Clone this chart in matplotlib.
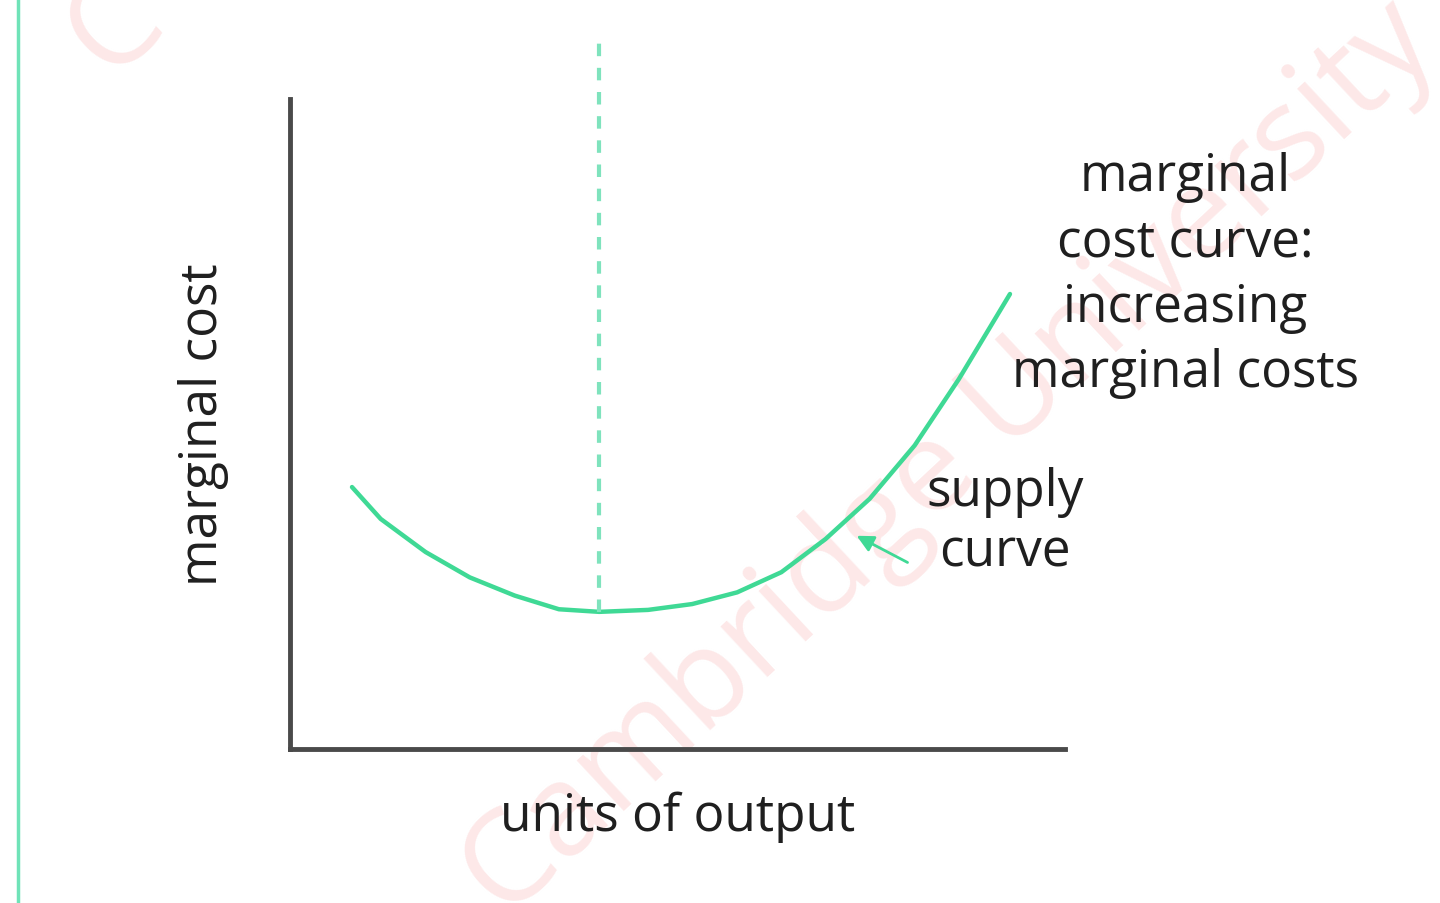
import numpy as np
import matplotlib
matplotlib.use("Agg")
import matplotlib.pyplot as plt

plt.rcParams['font.family'] = ['Open Sans', 'DejaVu Sans']

# marginal cost curve (x = units of output, y = marginal cost)
output_units = [0.80, 1.17, 1.75, 2.32, 2.90, 3.47, 3.99, 4.62, 5.19, 5.77,
                6.34, 6.91, 7.48, 8.06, 8.63, 9.29]
marginal_cost = [4.03, 3.54, 3.03, 2.64, 2.36, 2.15, 2.11, 2.14, 2.23, 2.41,
                 2.72, 3.23, 3.85, 4.67, 5.69, 7.00]

# output level at the minimum of marginal cost
min_output = 3.99
min_cost = 2.11

label_x = "units of output"
label_y = "marginal cost"
note_mc = "marginal\ncost curve:\nincreasing\nmarginal costs"
note_supply = "supply\ncurve"
watermark = "Cambridge University"

green = "#3fd995"
axis_grey = "#4a4a4a"
text_col = "#1f1f1f"

fig = plt.figure(figsize=(14.4, 9.04), dpi=100)

# watermark and left rule on a full-figure overlay
bg = fig.add_axes([0, 0, 1, 1])
bg.set_xlim(0, 1)
bg.set_ylim(0, 1)
bg.axis("off")
bg.axvline(0.0125, color="#6fe3b8", lw=2.5)
bg.text(0.66, 0.49, watermark, rotation=43, fontsize=92, color="#fde8e8",
        ha="center", va="center", zorder=0)
bg.text(0.08, 0.97, "C", rotation=43, fontsize=92, color="#fde8e8",
        ha="center", va="center", zorder=0)

ax = fig.add_axes([290 / 1440, 154 / 904, 775 / 1440, 650 / 904])
ax.set_xlim(0, 10)
ax.set_ylim(0, 10)
ax.patch.set_alpha(0)
for s in ["top", "right"]:
    ax.spines[s].set_visible(False)
for s in ["left", "bottom"]:
    ax.spines[s].set_color(axis_grey)
    ax.spines[s].set_linewidth(3.5)
ax.set_xticks([])
ax.set_yticks([])

ax.plot(output_units, marginal_cost, color=green, lw=3.2,
        solid_capstyle="round", solid_joinstyle="round")
ax.plot([min_output, min_output], [min_cost, 11.0], color="#7fe3bd", lw=3.0,
        ls=(0, (3.0, 2.8)), clip_on=False)

ax.set_xlabel(label_x, fontsize=37, color=text_col, labelpad=30)
ax.set_ylabel(label_y, fontsize=37, color=text_col, labelpad=44)

ax.text(11.55, 7.3, note_mc, fontsize=37, color=text_col, ha="center", va="center",
        linespacing=1.37, clip_on=False)
ax.text(9.23, 3.5, note_supply, fontsize=37, color=text_col, ha="center", va="center",
        linespacing=1.25, clip_on=False)
ax.annotate("", xy=(7.28, 3.3), xytext=(8.0, 2.85),
            arrowprops=dict(arrowstyle="-|>,head_length=1.0,head_width=0.5",
                            color=green, lw=2), annotation_clip=False)

fig.savefig("out.png", dpi=100)
